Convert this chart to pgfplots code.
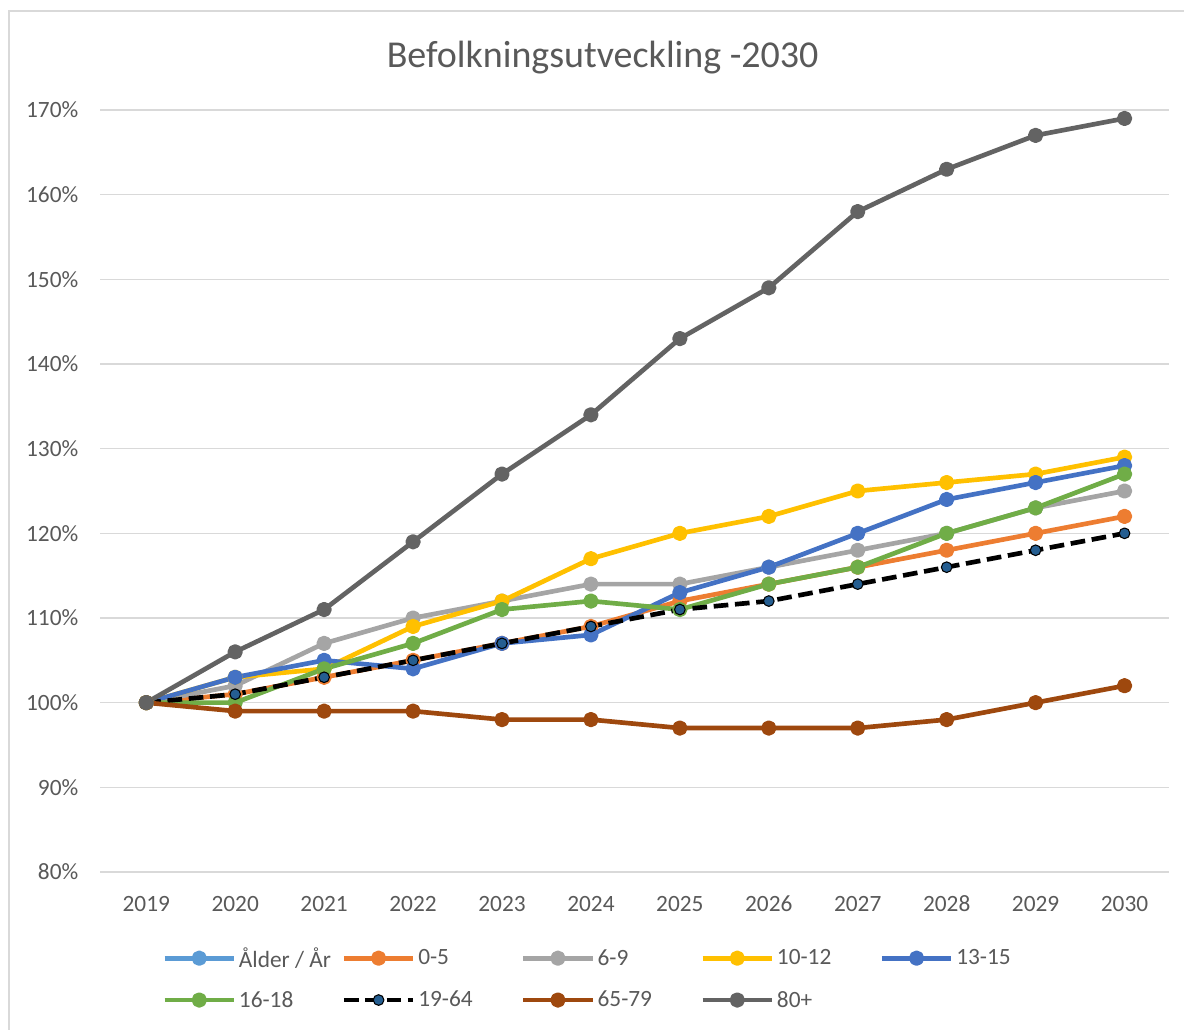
\documentclass[border=0pt]{standalone}
\usepackage{pgfplots}
\pgfplotsset{compat=1.18}
\usepackage{fontspec}
\setmainfont{Carlito}
\definecolor{cLight}{HTML}{5B9BD5}
\definecolor{cOrange}{HTML}{ED7D31}
\definecolor{cGray}{HTML}{A5A5A5}
\definecolor{cYellow}{HTML}{FFC000}
\definecolor{cBlue}{HTML}{4472C4}
\definecolor{cGreen}{HTML}{70AD47}
\definecolor{cDkBlue}{HTML}{255E91}
\definecolor{cBrown}{HTML}{9E480E}
\definecolor{cDark}{HTML}{636363}
\definecolor{cGrid}{HTML}{D9D9D9}
\definecolor{cText}{HTML}{595959}
\begin{document}
\begin{tikzpicture}
\path[use as bounding box] (0,0) rectangle (888pt,772.5pt);
\draw[cGrid,line width=1.1pt] (6.75pt,0) -- (6.75pt,764.25pt) -- (888pt,764.25pt);
\node[text=cText,font=\fontsize{28.5}{34}\selectfont] at (452pt,729pt) {Befolkningsutveckling -2030};
\begin{axis}[
  at={(75pt,118.5pt)}, anchor=south west,
  scale only axis, width=801.75pt, height=571.5pt,
  xmin=2018.48, xmax=2030.5, ymin=80, ymax=170,
  axis line style={draw=none},
  xtick={2019,2020,2021,2022,2023,2024,2025,2026,2027,2028,2029,2030},
  xticklabels={2019,2020,2021,2022,2023,2024,2025,2026,2027,2028,2029,2030},
  ytick={80,90,100,110,120,130,140,150,160,170},
  yticklabels={80\%,90\%,100\%,110\%,120\%,130\%,140\%,150\%,160\%,170\%},
  major tick length=0pt,
  ymajorgrids, grid style={cGrid,line width=1.1pt},
  tick label style={text=cText,font=\fontsize{17.5}{21}\selectfont},
  yticklabel style={xshift=-12.75pt},
  xticklabel style={yshift=-14.5pt},
  every axis plot/.append style={line width=3.5pt, line join=round, mark=*, mark size=4pt},
  legend image code/.code={\draw[mark repeat=2,mark phase=2,#1] plot coordinates {(0pt,0pt) (26pt,0pt) (52pt,0pt)};},
  legend columns=5,
  legend style={at={(0.058,-0.095)}, anchor=north west, draw=none, fill=none, inner sep=0pt,
    font=\fontsize{17.5}{21}\selectfont, text=cText,
    /tikz/every even column/.append style={column sep=4pt},
    row sep=12.5pt},
  legend cell align=left,
]
\addlegendimage{cLight, line width=3.5pt, mark=*, mark size=4pt, mark options={fill=cLight}}
\addlegendentry{\makebox[71pt][l]{Ålder / År}}
\addplot[cOrange, mark options={fill=cOrange}] coordinates {(2019,100)(2020,101)(2021,103)(2022,105)(2023,107)(2024,109)(2025,112)(2026,114)(2027,116)(2028,118)(2029,120)(2030,122)};
\addlegendentry{\makebox[71pt][l]{0-5}}
\addplot[cGray, mark options={fill=cGray}] coordinates {(2019,100)(2020,102)(2021,107)(2022,110)(2023,112)(2024,114)(2025,114)(2026,116)(2027,118)(2028,120)(2029,123)(2030,125)};
\addlegendentry{\makebox[71pt][l]{6-9}}
\addplot[cYellow, mark options={fill=cYellow}] coordinates {(2019,100)(2020,103)(2021,104)(2022,109)(2023,112)(2024,117)(2025,120)(2026,122)(2027,125)(2028,126)(2029,127)(2030,129)};
\addlegendentry{\makebox[71pt][l]{10-12}}
\addplot[cBlue, mark options={fill=cBlue}] coordinates {(2019,100)(2020,103)(2021,105)(2022,104)(2023,107)(2024,108)(2025,113)(2026,116)(2027,120)(2028,124)(2029,126)(2030,128)};
\addlegendentry{\makebox[71pt][l]{13-15}}
\addplot[cGreen, mark options={fill=cGreen}] coordinates {(2019,100)(2020,100)(2021,104)(2022,107)(2023,111)(2024,112)(2025,111)(2026,114)(2027,116)(2028,120)(2029,123)(2030,127)};
\addlegendentry{\makebox[71pt][l]{16-18}}
\addplot[black, dash pattern=on 11pt off 5pt, mark options={solid, fill=cDkBlue, draw=black, line width=0.8pt}] coordinates {(2019,100)(2020,101)(2021,103)(2022,105)(2023,107)(2024,109)(2025,111)(2026,112)(2027,114)(2028,116)(2029,118)(2030,120)};
\addlegendentry{\makebox[71pt][l]{19-64}}
\addplot[cBrown, mark options={fill=cBrown}] coordinates {(2019,100)(2020,99)(2021,99)(2022,99)(2023,98)(2024,98)(2025,97)(2026,97)(2027,97)(2028,98)(2029,100)(2030,102)};
\addlegendentry{\makebox[71pt][l]{65-79}}
\addplot[cDark, mark options={fill=cDark}] coordinates {(2019,100)(2020,106)(2021,111)(2022,119)(2023,127)(2024,134)(2025,143)(2026,149)(2027,158)(2028,163)(2029,167)(2030,169)};
\addlegendentry{\makebox[71pt][l]{80+}}
\end{axis}
\end{tikzpicture}
\end{document}
